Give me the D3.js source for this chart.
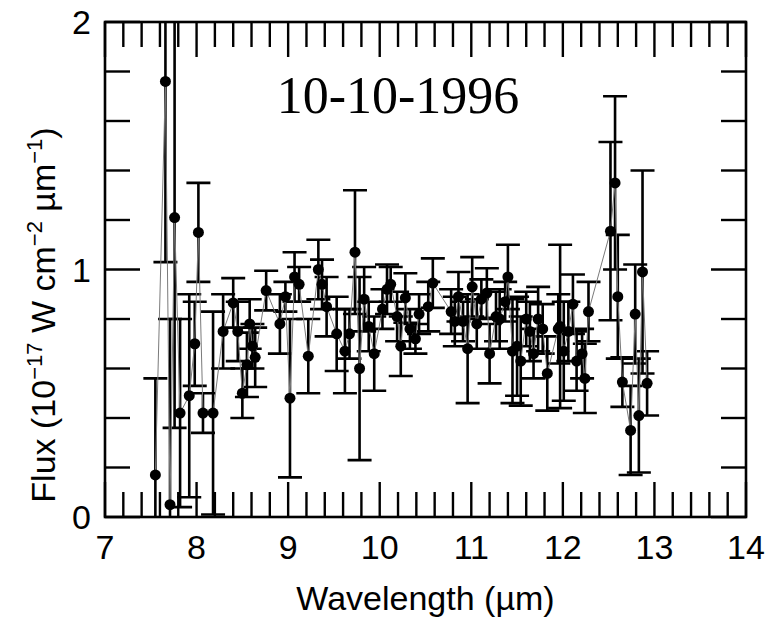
<!DOCTYPE html>
<html>
<head>
<meta charset="utf-8">
<script src="https://cdn.jsdelivr.net/npm/d3@7"></script>
<style>
  body { margin: 0; background: #fff; }
  svg { display: block; }
</style>
</head>
<body>
<script>
// wavelength (µm), flux (1e-17 W cm^-2 µm^-1), 1-sigma error
const wavelength = [
  7.55, 7.66, 7.71, 7.76, 7.82, 7.92, 7.98, 8.02, 8.07, 8.18,
  8.29, 8.40, 8.45, 8.50, 8.55, 8.58, 8.61, 8.64, 8.76, 8.91,
  8.97, 9.02, 9.07, 9.12, 9.22, 9.33, 9.37, 9.42, 9.53, 9.62,
  9.67, 9.73, 9.78, 9.83, 9.88, 9.94, 10.03, 10.08, 10.12, 10.19,
  10.23, 10.28, 10.33, 10.39, 10.43, 10.53, 10.58, 10.78, 10.82, 10.86,
  10.91, 10.96, 11.01, 11.06, 11.11, 11.17, 11.20, 11.27, 11.31, 11.37,
  11.40, 11.45, 11.50, 11.54, 11.60, 11.64, 11.68, 11.73, 11.78, 11.83,
  11.95, 11.97, 12.01, 12.06, 12.11, 12.15, 12.21, 12.24, 12.28, 12.52,
  12.57, 12.60, 12.65, 12.74, 12.79, 12.83, 12.87, 12.92
];
const flux = [
  0.17, 1.76, 0.05, 1.21, 0.42, 0.49, 0.70, 1.15, 0.42, 0.42,
  0.75, 0.865, 0.75, 0.50, 0.615, 0.78, 0.69, 0.645, 0.915, 0.78,
  0.89, 0.48, 0.97, 0.94, 0.65, 1.00, 0.94, 0.85, 0.74, 0.67,
  0.74, 1.07, 0.60, 0.88, 0.77, 0.66, 0.84, 0.92, 0.94, 0.81,
  0.69, 0.885, 0.76, 0.72, 0.82, 0.85, 0.945, 0.83, 0.79, 0.89,
  0.79, 0.68, 0.93, 0.78, 0.88, 0.905, 0.66, 0.81, 0.80, 0.87,
  0.97, 0.67, 0.69, 0.63, 0.80, 0.75, 0.66, 0.80, 0.76, 0.58,
  0.76, 0.77, 0.67, 0.75, 0.86, 0.63, 0.66, 0.56, 0.83, 1.155,
  1.35, 0.89, 0.545, 0.35, 0.82, 0.41, 0.99, 0.54
];
const fluxErr = [
  0.39, 0.73, 0.75, 0.85, 0.38, 0.41, 0.17, 0.20, 0.08, 0.41,
  0.15, 0.10, 0.12, 0.10, 0.13, 0.10, 0.09, 0.12, 0.08, 0.12,
  0.06, 0.32, 0.10, 0.07, 0.15, 0.12, 0.10, 0.12, 0.15, 0.17,
  0.10, 0.25, 0.37, 0.13, 0.10, 0.15, 0.08, 0.10, 0.07, 0.10,
  0.12, 0.10, 0.08, 0.06, 0.08, 0.10, 0.10, 0.09, 0.10, 0.10,
  0.08, 0.22, 0.12, 0.10, 0.08, 0.10, 0.12, 0.10, 0.12, 0.08,
  0.13, 0.21, 0.20, 0.18, 0.11, 0.12, 0.10, 0.13, 0.10, 0.15,
  0.14, 0.33, 0.20, 0.12, 0.12, 0.12, 0.10, 0.14, 0.12, 0.36,
  0.35, 0.25, 0.10, 0.18, 0.20, 0.23, 0.41, 0.13
];
const xTicks = [7, 8, 9, 10, 11, 12, 13, 14];
const yTicks = [0, 1, 2];
const title = "10-10-1996";

const W = 768, H = 617;
const pLeft = 105, pRight = 746, pTop = 22, pBottom = 517;

const svg = d3.select("body").append("svg")
  .attr("width", W)
  .attr("height", H);

const x = d3.scaleLinear().domain([7, 14]).range([pLeft, pRight]);
const y = d3.scaleLinear().domain([0, 2]).range([pBottom, pTop]);

const points = wavelength.map((w, i) => ({ w: w, f: flux[i], e: fluxErr[i] }));

svg.append("clipPath").attr("id", "plot")
  .append("rect")
  .attr("x", pLeft).attr("y", pTop)
  .attr("width", pRight - pLeft).attr("height", pBottom - pTop);

const plot = svg.append("g").attr("clip-path", "url(#plot)");

// error bars
const cap = 12;
const bars = plot.append("g")
  .attr("stroke", "#000")
  .attr("stroke-width", 2.6)
  .attr("fill", "none");
bars.selectAll("path")
  .data(points)
  .enter()
  .append("path")
  .attr("d", function (d) {
    const cx = x(d.w), y0 = y(d.f - d.e), y1 = y(d.f + d.e);
    return "M" + cx + "," + y0 + "V" + y1 +
      "M" + (cx - cap) + "," + y1 + "H" + (cx + cap) +
      "M" + (cx - cap) + "," + y0 + "H" + (cx + cap);
  });

// thin connecting line
plot.append("path")
  .datum(points)
  .attr("fill", "none")
  .attr("stroke", "#7a7a7a")
  .attr("stroke-width", 1)
  .attr("d", d3.line().x(d => x(d.w)).y(d => y(d.f)));

plot.append("g")
  .selectAll("circle")
  .data(points)
  .enter()
  .append("circle")
  .attr("cx", d => x(d.w))
  .attr("cy", d => y(d.f))
  .attr("r", 5.5)
  .attr("fill", "#000");

// inward ticks on all four sides
const xMinor = d3.range(7, 14.001, 0.2);
const yMinor = d3.range(0, 2.001, 0.2);
const isMajor = v => Math.abs(v - Math.round(v)) < 1e-6;
const major = 35, minor = 25;

const axisG = svg.append("g").attr("stroke", "#000").attr("stroke-width", 2.4);

axisG.selectAll("line.xb")
  .data(xMinor)
  .enter().append("line")
  .attr("x1", d => x(d)).attr("x2", d => x(d))
  .attr("y1", pBottom).attr("y2", d => pBottom - (isMajor(d) ? major : minor));
axisG.selectAll("line.xt")
  .data(xMinor)
  .enter().append("line")
  .attr("x1", d => x(d)).attr("x2", d => x(d))
  .attr("y1", pTop).attr("y2", d => pTop + (isMajor(d) ? major : minor));
axisG.selectAll("line.yl")
  .data(yMinor)
  .enter().append("line")
  .attr("y1", d => y(d)).attr("y2", d => y(d))
  .attr("x1", pLeft).attr("x2", d => pLeft + (isMajor(d) ? major : minor));
axisG.selectAll("line.yr")
  .data(yMinor)
  .enter().append("line")
  .attr("y1", d => y(d)).attr("y2", d => y(d))
  .attr("x1", pRight).attr("x2", d => pRight - (isMajor(d) ? major : minor));

svg.append("rect")
  .attr("x", pLeft).attr("y", pTop)
  .attr("width", pRight - pLeft).attr("height", pBottom - pTop)
  .attr("fill", "none")
  .attr("stroke", "#000")
  .attr("stroke-width", 2.6);

// tick labels
const font = "Liberation Sans, Arial, sans-serif";
svg.append("g")
  .selectAll("text")
  .data(xTicks)
  .enter().append("text")
  .attr("x", d => x(d))
  .attr("y", 559)
  .attr("text-anchor", "middle")
  .style("font-family", font)
  .style("font-size", "34px")
  .text(d => d);

svg.append("g")
  .selectAll("text")
  .data(yTicks)
  .enter().append("text")
  .attr("x", 91)
  .attr("y", d => y(d) + 12)
  .attr("text-anchor", "end")
  .style("font-family", font)
  .style("font-size", "34px")
  .text(d => d);

// axis titles
svg.append("text")
  .attr("x", (pLeft + pRight) / 2)
  .attr("y", 610)
  .attr("text-anchor", "middle")
  .style("font-family", font)
  .style("font-size", "34px")
  .text("Wavelength (\u00b5m)");

const yl = svg.append("text")
  .attr("transform", "translate(55,315) rotate(-90)")
  .attr("text-anchor", "middle")
  .style("font-family", font)
  .style("font-size", "34px");
yl.append("tspan").text("Flux (10");
yl.append("tspan").attr("dy", -13).style("font-size", "22px").text("\u221217");
yl.append("tspan").attr("dy", 13).text(" W cm");
yl.append("tspan").attr("dy", -13).style("font-size", "22px").text("\u22122");
yl.append("tspan").attr("dy", 13).text(" \u00b5m");
yl.append("tspan").attr("dy", -13).style("font-size", "22px").text("\u22121");
yl.append("tspan").attr("dy", 13).text(")");

svg.append("text")
  .attr("x", 398)
  .attr("y", 113)
  .attr("text-anchor", "middle")
  .style("font-family", "Liberation Serif, Times New Roman, serif")
  .style("font-size", "52px")
  .text(title);
</script>
</body>
</html>
